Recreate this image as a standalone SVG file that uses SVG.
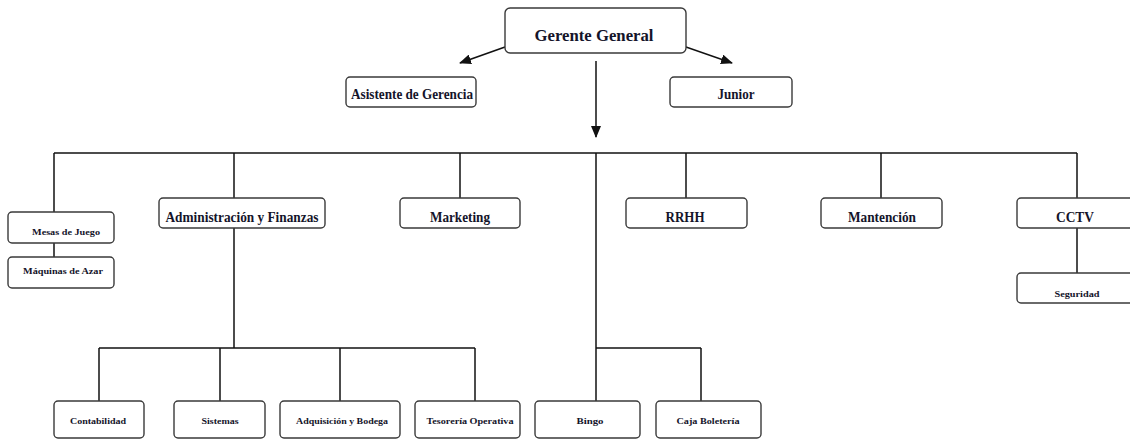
<svg xmlns="http://www.w3.org/2000/svg" width="1130" height="439" viewBox="0 0 1130 439">
<style>
.box{fill:#fff;stroke:#3a3a3a;stroke-width:1.4}
.t{font-family:"Liberation Serif","Times New Roman",serif;font-weight:bold;fill:#14142a;text-anchor:middle}
.m{font-size:14px}
.s{font-size:9px}
.ln{stroke:#111;stroke-width:1.5;fill:none}
</style>
<defs>
<marker id="ah" markerWidth="12" markerHeight="10" refX="11" refY="5" orient="auto" markerUnits="userSpaceOnUse">
<path d="M0,0 L12,5 L0,10 Z" fill="#111"/>
</marker>
</defs>
<rect width="1130" height="439" fill="#fff"/>
<g id="connectors">
<line class="ln" x1="505" y1="47" x2="460" y2="63" marker-end="url(#ah)"/>
<line class="ln" x1="686" y1="47" x2="732" y2="63" marker-end="url(#ah)"/>
<line class="ln" x1="596" y1="61" x2="596" y2="137" marker-end="url(#ah)"/>
<line class="ln" x1="54" y1="153" x2="1077" y2="153"/>
<line class="ln" x1="54" y1="153" x2="54" y2="212"/>
<line class="ln" x1="234" y1="153" x2="234" y2="198"/>
<line class="ln" x1="460" y1="153" x2="460" y2="198"/>
<line class="ln" x1="596" y1="153" x2="596" y2="401"/>
<line class="ln" x1="686" y1="153" x2="686" y2="198"/>
<line class="ln" x1="881" y1="153" x2="881" y2="198"/>
<line class="ln" x1="1077" y1="153" x2="1077" y2="198"/>
<line class="ln" x1="54" y1="243" x2="54" y2="257"/>
<line class="ln" x1="234" y1="228" x2="234" y2="348"/>
<line class="ln" x1="99" y1="348" x2="475" y2="348"/>
<line class="ln" x1="99" y1="348" x2="99" y2="401"/>
<line class="ln" x1="220" y1="348" x2="220" y2="401"/>
<line class="ln" x1="340" y1="348" x2="340" y2="401"/>
<line class="ln" x1="475" y1="348" x2="475" y2="401"/>
<line class="ln" x1="596" y1="348" x2="701" y2="348"/>
<line class="ln" x1="701" y1="348" x2="701" y2="401"/>
<line class="ln" x1="1077" y1="228" x2="1077" y2="273"/>
</g>
<g id="gerente"><rect class="box" x="505" y="8" width="181" height="45" rx="5"/><text class="t" x="594" y="41" font-size="17" textLength="119" lengthAdjust="spacingAndGlyphs">Gerente General</text></g>
<g id="asistente"><rect class="box" x="346" y="77" width="130" height="30" rx="4"/><text class="t m" x="412" y="99" textLength="122" lengthAdjust="spacingAndGlyphs">Asistente de Gerencia</text></g>
<g id="junior"><rect class="box" x="670" y="77" width="122" height="30" rx="4"/><text class="t m" x="736" y="99" textLength="37" lengthAdjust="spacingAndGlyphs">Junior</text></g>
<g id="mesas"><rect class="box" x="8" y="212" width="106" height="31" rx="4"/><text class="t s" x="66" y="235" textLength="68" lengthAdjust="spacingAndGlyphs">Mesas de Juego</text></g>
<g id="maquinas"><rect class="box" x="8" y="257" width="106" height="31" rx="4"/><text class="t s" x="63" y="274" textLength="80" lengthAdjust="spacingAndGlyphs">Máquinas de Azar</text></g>
<g id="admin"><rect class="box" x="159" y="198" width="166" height="30" rx="4"/><text class="t m" x="242" y="222" font-size="15" textLength="153" lengthAdjust="spacingAndGlyphs">Administración y Finanzas</text></g>
<g id="marketing"><rect class="box" x="400" y="198" width="120" height="30" rx="4"/><text class="t m" x="460" y="222" textLength="60" lengthAdjust="spacingAndGlyphs">Marketing</text></g>
<g id="rrhh"><rect class="box" x="626" y="198" width="121" height="30" rx="4"/><text class="t m" x="685" y="222" textLength="39" lengthAdjust="spacingAndGlyphs">RRHH</text></g>
<g id="mantencion"><rect class="box" x="821" y="198" width="121" height="30" rx="4"/><text class="t m" x="882" y="222" textLength="68" lengthAdjust="spacingAndGlyphs">Mantención</text></g>
<g id="cctv"><rect class="box" x="1017" y="198" width="125" height="30" rx="4"/><text class="t m" x="1075" y="222" textLength="38" lengthAdjust="spacingAndGlyphs">CCTV</text></g>
<g id="seguridad"><rect class="box" x="1017" y="273" width="125" height="30" rx="4"/><text class="t s" x="1077" y="297" textLength="45" lengthAdjust="spacingAndGlyphs">Seguridad</text></g>
<g id="contabilidad"><rect class="box" x="54" y="401" width="90" height="37" rx="4"/><text class="t s" x="98" y="424" textLength="56" lengthAdjust="spacingAndGlyphs">Contabilidad</text></g>
<g id="sistemas"><rect class="box" x="174" y="401" width="91" height="37" rx="4"/><text class="t s" x="220" y="424" textLength="37" lengthAdjust="spacingAndGlyphs">Sistemas</text></g>
<g id="adquisicion"><rect class="box" x="280" y="401" width="120" height="37" rx="4"/><text class="t s" x="342" y="424" textLength="92" lengthAdjust="spacingAndGlyphs">Adquisición y Bodega</text></g>
<g id="tesoreria"><rect class="box" x="415" y="401" width="105" height="37" rx="4"/><text class="t s" x="470" y="424" textLength="87" lengthAdjust="spacingAndGlyphs">Tesorería Operativa</text></g>
<g id="bingo"><rect class="box" x="535" y="401" width="105" height="37" rx="4"/><text class="t s" x="590" y="424" textLength="27" lengthAdjust="spacingAndGlyphs">Bingo</text></g>
<g id="caja"><rect class="box" x="656" y="401" width="105" height="37" rx="4"/><text class="t s" x="708" y="424" textLength="63" lengthAdjust="spacingAndGlyphs">Caja Boletería</text></g>
</svg>
